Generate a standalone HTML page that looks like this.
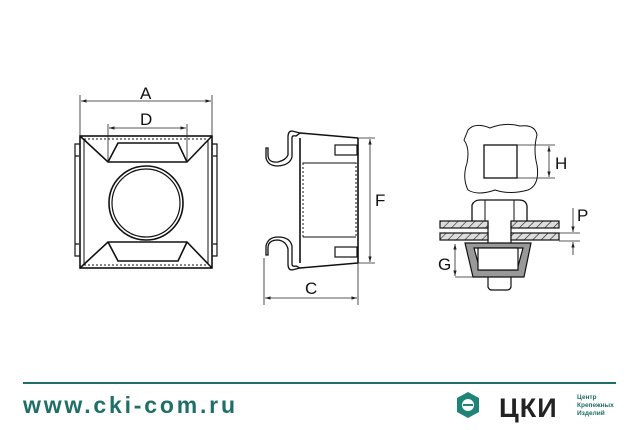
<!DOCTYPE html>
<html><head><meta charset="utf-8"><style>
body{margin:0;background:#fff;width:639px;height:425px;overflow:hidden;font-family:"Liberation Sans",sans-serif}
</style></head><body>
<svg width="639" height="425" viewBox="0 0 639 425" xmlns="http://www.w3.org/2000/svg" font-family="Liberation Sans, sans-serif">
<defs>
<marker id="ar" viewBox="0 0 10 10" refX="10" refY="5" markerWidth="7" markerHeight="7" orient="auto-start-reverse"><path d="M0,2 L10,5 L0,8 z" fill="#222"/></marker>
<pattern id="hat" width="6" height="6" patternUnits="userSpaceOnUse" patternTransform="rotate(45)"><rect width="6" height="6" fill="#ddd"/><line x1="0" y1="0" x2="0" y2="6" stroke="#222" stroke-width="1.2"/></pattern>
</defs>
<g fill="none" stroke="#111" stroke-width="1.6">
<rect x="80" y="136" width="132" height="132"/>
<line x1="84" y1="140" x2="84" y2="264" stroke-width="1"/>
<line x1="208" y1="140" x2="208" y2="264" stroke-width="1"/>
<path d="M80,144 h-5 v12 h4 M80,256 h-5 v-12 h4 M75,156 v88" stroke-width="1.2"/>
<path d="M212,144 h5 v12 h-4 M212,256 h5 v-12 h-4 M217,156 v88" stroke-width="1.2"/>
<line x1="84" y1="139" x2="208" y2="139" stroke-dasharray="2,2" stroke-width="1"/>
<line x1="84" y1="265" x2="208" y2="265" stroke-dasharray="2,2" stroke-width="1"/>
<path d="M80,136 L108,162 H187 L212,136"/>
<path d="M108,162 L118,143 H178 L187,162"/>
<path d="M80,268 L108,242 H187 L212,268"/>
<path d="M108,242 L118,261 H178 L187,242"/>
<circle cx="146" cy="203" r="37"/>
<circle cx="146" cy="203" r="34" stroke-width="1.2"/>
<path d="M300,138 V263 M358,138 V263"/>
<path d="M358,138 L300,133 M358,263 L300,268"/>
<path d="M300,133 L292,131 Q288,131 288,137 L288,155 Q286,160 278,162 Q268,163 268,155 V148 H266 V158 Q268,166 278,166 Q290,165 292,157 V138 Q292,135 296,136 Z" stroke-width="1.3"/>
<path d="M300,268 L292,270 Q288,270 288,264 L288,249 Q286,241 278,240 Q268,240 268,248 V255 H266 V246 Q268,237 278,237 Q290,237 292,246 V264 Q292,267 296,266 Z" stroke-width="1.3"/>
<rect x="303" y="163" width="53" height="74" stroke-dasharray="2,2" stroke-width="1"/>
<line x1="303" y1="163" x2="356" y2="163" stroke-width="1"/>
<line x1="303" y1="237" x2="356" y2="237" stroke-width="1"/>
<rect x="335" y="145" width="22" height="10" stroke-width="1.2"/>
<rect x="335" y="247" width="22" height="10" stroke-width="1.2"/>
<path d="M468,130 Q475,122 490,128 Q505,122 520,126 Q535,124 537,135 Q533,150 537,165 Q540,185 528,190 Q510,195 495,190 Q478,196 468,190 Q462,178 467,163 Q470,148 464,140 Z" stroke-width="1"/>
<rect x="484" y="145" width="33" height="33" stroke-width="1.3"/>
<path d="M472,222 V205 Q474,200 480,200 H519 Q526,200 527,206 V222" stroke-width="1.3"/>
<line x1="485" y1="200" x2="485" y2="222" stroke-width="1"/>
<line x1="514" y1="200" x2="514" y2="222" stroke-width="1"/>
<path d="M488,222 V243 M511,222 V243" stroke-width="1.2"/>
<rect x="440" y="221" width="48" height="7" fill="url(#hat)" stroke-width="1.2"/>
<rect x="511" y="221" width="48" height="7" fill="url(#hat)" stroke-width="1.2"/>
<rect x="440" y="233" width="48" height="7" fill="url(#hat)" stroke-width="1.2"/>
<rect x="511" y="233" width="48" height="7" fill="url(#hat)" stroke-width="1.2"/>
<path d="M465,243 H531 L524,277 H473 Z" fill="#999" stroke-width="1.2"/>
<path d="M474,248 H523 L517,270 H480 Z" fill="#fff" stroke-width="1.2"/>
<rect x="478" y="248" width="40" height="22" fill="#fff" stroke-width="1.2"/>
<path d="M488,277 V287 Q489,290 492,290 H507 Q510,290 511,287 V277" stroke-width="1.2"/>
</g>
<g stroke="#222" stroke-width="0.8" fill="none">
<line x1="80" y1="95" x2="80" y2="136"/><line x1="212" y1="95" x2="212" y2="136"/>
<line x1="81" y1="101" x2="211" y2="101" marker-start="url(#ar)" marker-end="url(#ar)"/>
<line x1="108" y1="124" x2="108" y2="162"/><line x1="187" y1="124" x2="187" y2="162"/>
<line x1="109" y1="128" x2="186" y2="128" marker-start="url(#ar)" marker-end="url(#ar)"/>
<line x1="358" y1="138" x2="375" y2="138"/><line x1="358" y1="263" x2="375" y2="263"/>
<line x1="370" y1="139" x2="370" y2="262" marker-start="url(#ar)" marker-end="url(#ar)"/>
<line x1="264" y1="258" x2="264" y2="305"/><line x1="358" y1="263" x2="358" y2="305"/>
<line x1="265" y1="298" x2="357" y2="298" marker-start="url(#ar)" marker-end="url(#ar)"/>
<line x1="517" y1="145" x2="555" y2="145"/><line x1="517" y1="178" x2="555" y2="178"/>
<line x1="549" y1="146" x2="549" y2="177" marker-start="url(#ar)" marker-end="url(#ar)"/>
<line x1="559" y1="233" x2="580" y2="233"/><line x1="559" y1="241" x2="580" y2="241"/>
<line x1="573" y1="208" x2="573" y2="232" marker-end="url(#ar)"/>
<line x1="573" y1="255" x2="573" y2="242" marker-end="url(#ar)"/>
<line x1="455" y1="277" x2="473" y2="277"/>
<line x1="455" y1="244" x2="455" y2="276" marker-start="url(#ar)" marker-end="url(#ar)"/>
</g>
<g font-size="17" fill="#111">
<text x="140" y="99">A</text><text x="140" y="125">D</text>
<text x="375" y="206">F</text><text x="305" y="294">C</text>
<text x="555" y="169">H</text><text x="577" y="221">P</text><text x="438" y="270">G</text>
</g>
<line x1="23" y1="383" x2="616" y2="383" stroke="#1f6e68" stroke-width="2"/>
<text x="23" y="413" font-size="23" font-weight="bold" fill="#1f6e68" textLength="212" lengthAdjust="spacing">www.cki-com.ru</text>
<polygon points="468,392 479,398 479,412 468,418 457,412 457,398" fill="#1f8478"/>
<circle cx="468" cy="405" r="6" fill="#fff"/>
<line x1="463" y1="405" x2="473" y2="405" stroke="#1f8478" stroke-width="2"/>
<text x="499" y="417" font-size="27" font-weight="bold" fill="#222" letter-spacing="1">ЦКИ</text>
<g font-size="6.5" fill="#1f6e68" font-weight="bold"><text x="577" y="399">Центр</text><text x="577" y="407">Крепежных</text><text x="577" y="415">Изделий</text></g>
</svg>
</body></html>
